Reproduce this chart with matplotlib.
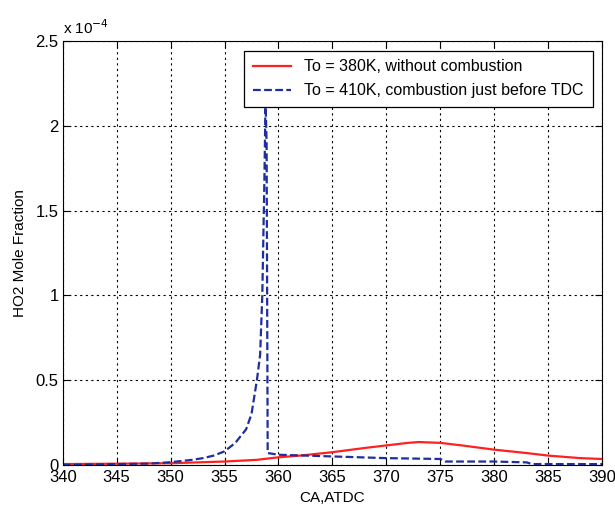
import matplotlib.pyplot as plt
import numpy as np

# values in units of 1e-4 (axis shows "x 10^-4")
ca_red = [340, 345, 350, 355, 358, 360, 362, 365, 368, 370, 372, 373, 375, 377, 380, 383, 385, 388, 390]
ho2_red = [0.005, 0.007, 0.01, 0.02, 0.03, 0.045, 0.055, 0.075, 0.1, 0.115, 0.13, 0.135, 0.13, 0.115,
           0.09, 0.07, 0.055, 0.04, 0.035]

ca_blue = [340, 345, 348, 350, 352, 353, 354, 355, 356, 357, 357.5, 358, 358.3, 358.5, 358.7, 358.8,
           358.9, 359.0, 360, 365, 370, 375, 375.5, 380, 383, 383.5, 390]
ho2_blue = [0.0, 0.005, 0.008, 0.016, 0.03, 0.04, 0.055, 0.08, 0.13, 0.21, 0.3, 0.5, 0.65, 1.0, 1.7, 2.15,
            1.9, 0.07, 0.06, 0.05, 0.04, 0.035, 0.02, 0.02, 0.015, 0.005, 0.005]

labels = ['To = 380K, without combustion', 'To = 410K, combustion just before TDC']

plt.rcParams['font.family'] = ['Liberation Sans', 'DejaVu Sans']

fig = plt.figure(figsize=(6.15, 5.07), dpi=100)
ax = fig.add_axes([0.102, 0.083, 0.877, 0.836])

ax.plot(ca_red, ho2_red, color='#ff2020', lw=1.6, label=labels[0])
ax.plot(ca_blue, ho2_blue, color='#1f2d9e', lw=1.6, ls=(0, (3.5, 1.5)), label=labels[1])

ax.set_xlim(340, 390)
ax.set_ylim(0, 2.5)
ax.set_xticks(np.arange(340, 391, 5))
ax.set_yticks([0, 0.5, 1, 1.5, 2, 2.5])
ax.set_yticklabels(['0', '0.5', '1', '1.5', '2', '2.5'])
ax.tick_params(direction='in', top=True, right=True, labelsize=12, length=5)
ax.tick_params(axis='x', pad=4)
ax.tick_params(axis='y', pad=3)
ax.grid(True, color='black', ls=(0, (2, 3)), lw=0.8)

ax.set_xlabel('CA,ATDC', fontsize=11, labelpad=4)
ax.set_ylabel('HO2 Mole Fraction', fontsize=11, labelpad=6)
ax.text(0.0, 1.01, r'x 10$^{-4}$', transform=ax.transAxes, fontsize=11, ha='left', va='bottom')

leg = ax.legend(loc='upper right', fontsize=11.5, fancybox=False, framealpha=1,
                edgecolor='black', borderaxespad=0.6, handlelength=2.4,
                borderpad=0.55, labelspacing=0.55)
leg.get_frame().set_linewidth(0.9)

fig.savefig('out.png', dpi=100)
